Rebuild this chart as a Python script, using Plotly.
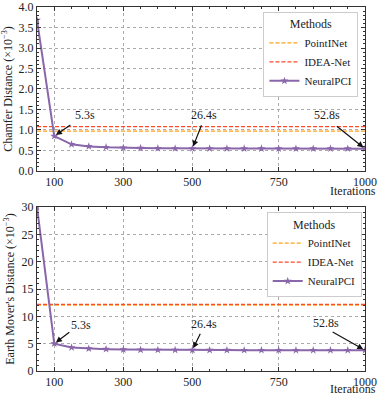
import plotly.graph_objects as go
from plotly.subplots import make_subplots

iterations = [50, 100, 150, 200, 250, 300, 350, 400, 450, 500, 550, 600, 650, 700, 750, 800, 850, 900, 950, 1000]
cd_neuralpci = [3.68, 0.85, 0.65, 0.60, 0.58, 0.565, 0.56, 0.555, 0.55, 0.55, 0.548, 0.548, 0.547, 0.547, 0.546, 0.546, 0.546, 0.545, 0.545, 0.545]
emd_neuralpci = [30.0, 5.0, 4.3, 4.1, 4.0, 3.92, 3.88, 3.85, 3.84, 3.83, 3.82, 3.82, 3.81, 3.81, 3.81, 3.80, 3.80, 3.80, 3.80, 3.80]
cd_pointinet = 0.97
cd_ideanet = 1.08
emd_pointinet = 12.05
emd_ideanet = 12.2
xticks = [100, 300, 500, 750, 1000]
time_labels = ["5.3s", "26.4s", "52.8s"]
time_iters = [100, 500, 1000]

FONT = "Liberation Serif"
PURPLE = "#8a66aa"
ORANGE = "#ffa21a"
RED = "#ff4a2a"

fig = make_subplots(rows=2, cols=1, vertical_spacing=0.099)

rows = [
    (1, cd_neuralpci, cd_pointinet, cd_ideanet, "legend"),
    (2, emd_neuralpci, emd_pointinet, emd_ideanet, "legend2"),
]
for r, vals, pin, idea, lg in rows:
    fig.add_trace(go.Scatter(x=[iterations[0], iterations[-1]], y=[pin, pin], mode="lines",
                             line=dict(color=ORANGE, dash="4px,2px", width=1.3), name="PointINet",
                             legend=lg), row=r, col=1)
    fig.add_trace(go.Scatter(x=[iterations[0], iterations[-1]], y=[idea, idea], mode="lines",
                             line=dict(color=RED, dash="4px,2px", width=1.3), name="IDEA-Net",
                             legend=lg), row=r, col=1)
    fig.add_trace(go.Scatter(x=iterations, y=vals, mode="lines+markers",
                             line=dict(color=PURPLE, width=2),
                             marker=dict(symbol="star", size=6, color=PURPLE),
                             name="NeuralPCI", legend=lg), row=r, col=1)

axis_common = dict(
    showline=True, linecolor="#333", linewidth=1, mirror="ticks",
    ticks="inside", ticklen=4, tickcolor="#333", automargin=False,
    showgrid=True, gridcolor="#aaaaaa", griddash="dot", gridwidth=1,
    zeroline=False, tickfont=dict(family=FONT, size=12, color="#222"),
)
for r in (1, 2):
    fig.update_xaxes(range=[50, 1000], tickvals=xticks, ticktext=[str(v) for v in xticks],
                     minor=dict(ticks="inside", ticklen=2, tickcolor="#333",
                                tickvals=[50, 150, 200, 250, 350, 400, 450, 550, 600, 650, 700, 800, 850, 900, 950]),
                     row=r, col=1, **axis_common)
fig.update_yaxes(range=[0, 4], dtick=0.5, tickformat=".1f",
                 minor=dict(ticks="inside", ticklen=2, tickcolor="#333", dtick=0.1),
                 title=dict(text="Chamfer Distance (×10<sup>−3</sup>)", font=dict(family=FONT, size=12, color="#222"), standoff=4),
                 row=1, col=1, **axis_common)
fig.update_yaxes(range=[0, 30], dtick=5,
                 minor=dict(ticks="inside", ticklen=2, tickcolor="#333", dtick=1),
                 title=dict(text="Earth Mover's Distance (×10<sup>−3</sup>)", font=dict(family=FONT, size=12, color="#222"), standoff=4),
                 row=2, col=1, **axis_common)

leg_common = dict(
    bgcolor="white", bordercolor="#cccccc", borderwidth=1,
    font=dict(family=FONT, size=11, color="#222"),
    title=dict(text="Methods", side="top center", font=dict(family=FONT, size=12, color="#222")),
    xanchor="right", yanchor="top", tracegroupgap=0, itemwidth=30,
)
fig.update_layout(
    legend=dict(x=0.98, y=0.987, **leg_common),
    legend2=dict(x=0.99, y=0.437, **leg_common),
)

# annotations: text and arrows
top_text = [(189, 1.37), (534, 1.37), (890, 1.37)]
top_tail = [(151, 1.15), (528, 1.15), (914, 1.12)]
bot_text = [(178, 8.4), (534, 8.6), (888, 8.8)]
bot_tail = [(148, 7.3), (525, 7.1), (902, 7.3)]
annotations = []
for (xr, yr, vals, texts, tails) in [("x", "y", cd_neuralpci, top_text, top_tail),
                                      ("x2", "y2", emd_neuralpci, bot_text, bot_tail)]:
    for lab, it, tp, tl in zip(time_labels, time_iters, texts, tails):
        yv = vals[iterations.index(it)]
        annotations.append(dict(x=tp[0], y=tp[1], xref=xr, yref=yr, text=lab, showarrow=False,
                                font=dict(family=FONT, size=12, color="#222")))
        annotations.append(dict(x=it, y=yv, xref=xr, yref=yr, ax=tl[0], ay=tl[1],
                                axref=xr, ayref=yr, text="", showarrow=True,
                                arrowhead=2, arrowsize=1, arrowwidth=1.2, arrowcolor="#111", standoff=2))
for ypos in (0.4945, -0.0508):
    annotations.append(dict(x=0.963, y=ypos, xref="paper", yref="paper", text="Iterations",
                            showarrow=False, xanchor="center", yanchor="middle",
                            font=dict(family=FONT, size=12, color="#222")))
fig.update_layout(annotations=annotations)

fig.update_layout(
    width=381, height=396,
    margin=dict(l=37, r=16, t=7, b=25),
    plot_bgcolor="white", paper_bgcolor="white",
    font=dict(family=FONT, size=12, color="#222"),
)
fig.write_html("out.html", config={"displayModeBar": False},
               post_script="document.body.style.margin='0px';document.body.style.overflow='hidden';")
